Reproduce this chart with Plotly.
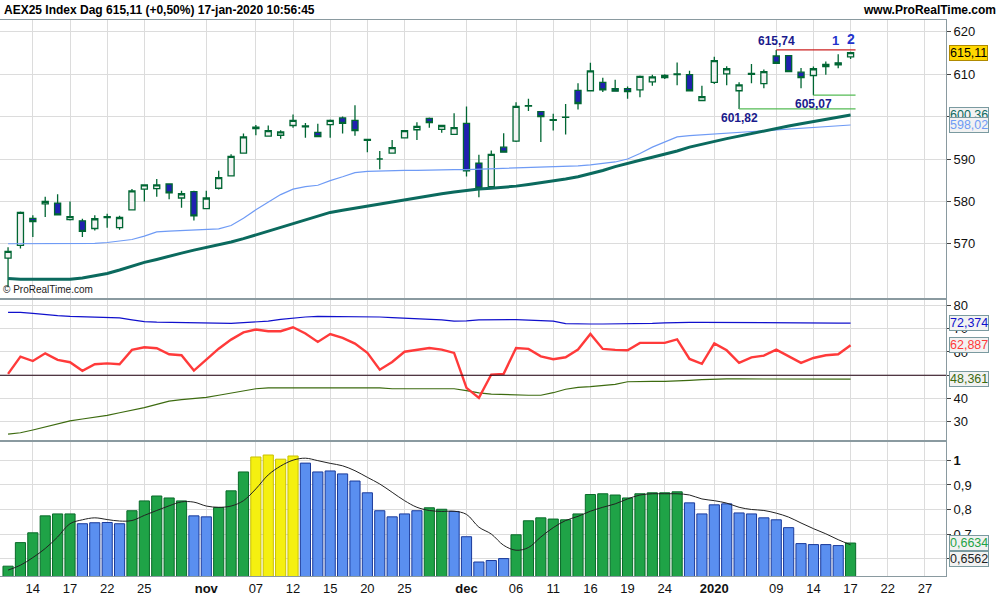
import plotly.graph_objects as go
from plotly.subplots import make_subplots

dates = (["2019-10-%02d" % d for d in [10, 11, 14, 15, 16, 17, 18, 21, 22, 23, 24, 25, 28, 29, 30, 31]]
         + ["2019-11-%02d" % d for d in [1, 4, 5, 6, 7, 8, 11, 12, 13, 14, 15, 18, 19, 20, 21, 22, 25, 26, 27, 28, 29]]
         + ["2019-12-%02d" % d for d in [2, 3, 4, 5, 6, 9, 10, 11, 12, 13, 16, 17, 18, 19, 20, 23, 24, 27, 30, 31]]
         + ["2020-01-%02d" % d for d in [2, 3, 6, 7, 8, 9, 10, 13, 14, 15, 16, 17]])

opens = [566.6, 569.6, 576.0, 579.4, 579.6, 575.7, 575.4, 573.6, 576.2, 573.8,
         578.0, 582.9, 583.0, 584.1, 580.8, 582.3, 578.3, 583.1, 586.0, 591.4,
         597.2, 595.4, 595.6, 597.9, 597.6, 596.3, 598.1, 599.7, 599.1, 594.6,
         590.0, 591.4, 595.0, 596.9, 599.6, 597.0, 595.8, 598.4, 589.0, 583.5,
         592.8, 594.2, 602.5, 601.2, 599.1, 599.8, 606.2, 606.1, 608.1, 606.6,
         606.6, 606.3, 608.2, 609.2, 609.9, 609.9, 603.8, 608.1, 610.1, 606.1,
         610.0, 607.8, 614.3, 614.4, 610.5, 609.7, 612.3, 612.7, 614.1]
highs = [569.2, 577.6, 576.7, 581.1, 581.7, 580.0, 575.9, 576.7, 577.1, 576.6,
         582.9, 584.0, 585.3, 584.2, 582.5, 582.5, 582.5, 587.2, 591.1, 596.0,
         598.0, 597.9, 596.8, 600.5, 598.5, 598.3, 599.3, 600.0, 602.7, 594.8,
         591.9, 594.5, 596.8, 598.7, 599.8, 598.1, 600.8, 602.4, 591.0, 592.0,
         596.1, 603.4, 604.2, 601.3, 600.7, 603.0, 607.9, 612.7, 609.2, 608.7,
         607.1, 609.7, 609.9, 610.0, 612.8, 610.8, 607.3, 614.1, 611.9, 608.1,
         612.4, 611.1, 615.74, 614.5, 611.5, 611.8, 613.0, 614.7, 615.3]
lows = [559.8, 568.9, 571.6, 576.3, 576.8, 575.5, 571.6, 573.1, 573.8, 573.3,
        578.0, 580.0, 581.1, 580.5, 578.5, 575.5, 578.3, 582.8, 585.9, 591.3,
        595.6, 595.3, 594.8, 597.4, 595.0, 595.2, 595.0, 596.0, 595.5, 591.6,
        587.6, 591.3, 594.9, 594.5, 597.4, 596.2, 595.7, 585.9, 581.0, 583.4,
        591.5, 594.0, 601.3, 594.0, 596.7, 595.8, 601.7, 606.0, 605.8, 605.9,
        604.2, 604.6, 607.3, 608.9, 607.4, 606.0, 603.7, 607.7, 607.4, 601.82,
        607.9, 606.7, 612.5, 610.5, 606.7, 605.07, 609.9, 611.4, 613.6]
closes = [568.2, 577.4, 575.2, 580.0, 576.8, 576.4, 572.9, 575.9, 576.4, 576.2,
          582.5, 583.9, 583.9, 582.0, 581.8, 576.6, 580.8, 585.6, 590.6, 595.2,
          597.5, 596.7, 596.4, 599.1, 597.8, 595.3, 599.1, 598.4, 596.7, 594.4,
          590.0, 592.7, 596.7, 597.7, 598.6, 597.9, 597.4, 587.2, 583.1, 591.1,
          591.6, 602.4, 602.6, 600.0, 599.3, 599.9, 603.1, 610.8, 606.3, 606.0,
          605.9, 609.5, 609.4, 609.7, 610.1, 606.1, 604.7, 613.2, 611.3, 607.5,
          610.2, 610.6, 612.6, 610.6, 609.2, 611.3, 611.8, 612.2, 615.11]

ma_slow = [561.8, 561.6, 561.6, 561.6, 561.6, 561.6, 561.9, 562.4, 563.0, 563.8,
           564.7, 565.6, 566.3, 567.1, 567.8, 568.5, 569.1, 569.7, 570.4, 571.2,
           572.1, 572.9, 573.8, 574.8, 575.7, 576.5, 577.4, 577.9, 578.4, 578.9,
           579.4, 579.9, 580.3, 580.8, 581.3, 581.8, 582.2, 582.6, 582.9, 583.1,
           583.3, 583.6, 584.0, 584.4, 584.8, 585.3, 585.8, 586.5, 587.3, 588.2,
           589.0, 589.7, 590.4, 591.1, 591.9, 592.8, 593.5, 594.2, 594.8, 595.4,
           596.0, 596.6, 597.3, 597.8, 598.3, 598.8, 599.3, 599.8, 600.36]
ma_fast = [570.0, 570.0, 570.0, 570.0, 570.0, 570.0, 570.0, 570.1, 570.3, 570.6,
           571.0, 571.8, 572.8, 573.0, 573.1, 573.2, 573.3, 573.5, 574.3, 576.0,
           578.0, 579.9, 581.6, 582.9, 583.5, 583.8, 584.9, 585.8, 586.8, 587.1,
           587.2, 587.2, 587.3, 587.3, 587.4, 587.4, 587.5, 587.5, 587.6, 587.6,
           587.7, 587.8, 587.9, 588.0, 588.1, 588.2, 588.4, 588.6, 588.9, 589.3,
           590.0, 591.3, 592.8, 594.0, 595.2, 595.5, 595.7, 595.9, 596.1, 596.3,
           596.5, 596.7, 596.9, 597.1, 597.2, 597.4, 597.6, 597.8, 598.02]

osc_blue = [77.0, 77.0, 76.6, 76.0, 75.6, 75.3, 75.2, 75.0, 74.9, 74.6,
            73.8, 73.0, 72.8, 72.7, 72.7, 72.4, 72.3, 72.3, 72.3, 72.6,
            72.9, 73.2, 74.0, 74.6, 75.0, 75.3, 75.3, 75.3, 75.3, 75.3,
            75.0, 74.7, 74.5, 74.3, 74.0, 73.8, 73.2, 73.3, 73.8, 73.9,
            73.9, 73.9, 73.7, 73.5, 73.2, 72.2, 72.0, 72.0, 72.0, 72.0,
            72.0, 72.1, 72.3, 72.5, 72.7, 72.7, 72.7, 72.7, 72.7, 72.7,
            72.7, 72.7, 72.7, 72.7, 72.7, 72.5, 72.4, 72.4, 72.374]
osc_red = [50.6, 58.0, 56.1, 59.4, 56.6, 55.6, 51.9, 54.7, 55.1, 54.7,
           60.9, 62.0, 61.6, 59.0, 58.6, 52.0, 56.7, 61.4, 65.3, 68.4,
           69.6, 68.9, 68.9, 70.6, 67.9, 64.3, 67.7, 66.0, 63.6, 59.6,
           52.4, 55.7, 60.1, 61.0, 61.7, 61.0, 59.6, 44.6, 40.3, 50.3,
           50.6, 61.7, 61.3, 58.1, 56.9, 57.7, 61.0, 67.7, 61.3, 60.9,
           60.7, 63.9, 63.9, 63.9, 65.4, 57.0, 54.9, 63.7, 60.7, 55.3,
           57.7, 58.4, 61.0, 58.1, 55.3, 57.4, 58.6, 59.0, 62.887]
osc_green = [24.7, 25.3, 26.5, 27.7, 29.2, 30.4, 31.2, 31.9, 32.8, 33.9,
             34.9, 36.1, 37.5, 38.9, 39.5, 40.0, 40.5, 41.4, 42.3, 43.4,
             44.2, 44.6, 44.6, 44.6, 44.6, 44.6, 44.6, 44.6, 44.6, 44.6,
             44.6, 44.2, 44.2, 44.2, 44.2, 44.2, 44.2, 43.4, 42.4, 41.9,
             41.7, 41.4, 41.4, 41.4, 42.5, 44.0, 44.8, 45.1, 45.5, 46.1,
             47.2, 47.4, 47.4, 47.4, 47.5, 47.8, 48.1, 48.4, 48.4, 48.4,
             48.4, 48.4, 48.4, 48.4, 48.2, 48.2, 48.3, 48.4, 48.361]
osc_level = 50

hist = [0.569, 0.665, 0.705, 0.774, 0.782, 0.782, 0.742, 0.746, 0.747, 0.742,
        0.795, 0.835, 0.855, 0.847, 0.835, 0.774, 0.770, 0.808, 0.876, 0.953,
        1.014, 1.022, 1.005, 1.018, 0.989, 0.953, 0.957, 0.945, 0.916, 0.868,
        0.795, 0.770, 0.782, 0.795, 0.807, 0.801, 0.792, 0.689, 0.586, 0.592,
        0.600, 0.697, 0.754, 0.766, 0.761, 0.758, 0.782, 0.861, 0.864, 0.859,
        0.847, 0.864, 0.868, 0.868, 0.872, 0.827, 0.782, 0.819, 0.823, 0.786,
        0.782, 0.766, 0.758, 0.726, 0.661, 0.657, 0.657, 0.653, 0.6634]
hist_state = (["up"] * 6 + ["down"] * 4 + ["up"] * 5 + ["down"] * 2 + ["up"] * 3
              + ["over"] * 4 + ["down"] * 10 + ["up"] * 2 + ["down"] * 5
              + ["up"] * 14 + ["down"] * 13 + ["up"])
hist_avg = [0.553, 0.573, 0.604, 0.641, 0.688, 0.742, 0.758, 0.766, 0.759, 0.753,
            0.755, 0.776, 0.796, 0.815, 0.831, 0.830, 0.814, 0.809, 0.814, 0.836,
            0.884, 0.941, 0.977, 1.001, 1.009, 0.999, 0.988, 0.978, 0.958, 0.931,
            0.904, 0.870, 0.836, 0.809, 0.796, 0.792, 0.793, 0.780, 0.728, 0.700,
            0.654, 0.634, 0.645, 0.688, 0.726, 0.755, 0.772, 0.793, 0.809, 0.823,
            0.843, 0.859, 0.864, 0.864, 0.864, 0.859, 0.843, 0.836, 0.826, 0.809,
            0.800, 0.796, 0.785, 0.769, 0.745, 0.722, 0.701, 0.677, 0.6562]

tick_dates = ["2019-10-14", "2019-10-17", "2019-10-22", "2019-10-25", "2019-11-01", "2019-11-07",
              "2019-11-12", "2019-11-15", "2019-11-20", "2019-11-25", "2019-12-02", "2019-12-06",
              "2019-12-11", "2019-12-16", "2019-12-19", "2019-12-24", "2020-01-02", "2020-01-09",
              "2020-01-14", "2020-01-17"]
future_ticks = [71, 74]
tick_labels = ["14", "17", "22", "25", "<b>nov</b>", "07", "12", "15", "20", "25", "<b>dec</b>", "06",
               "11", "16", "19", "24", "<b>2020</b>", "09", "14", "17", "22", "27"]

x = list(range(len(dates)))
tickvals = [dates.index(d) for d in tick_dates] + future_ticks
n = len(x)
last = n - 1

fig = make_subplots(rows=3, cols=1, shared_xaxes=True, vertical_spacing=0.004)

fig.add_trace(go.Scatter(x=x, y=ma_fast, mode="lines", line=dict(color="#6f9bf5", width=1.2),
                         hoverinfo="skip"), 1, 1)
fig.add_trace(go.Scatter(x=x, y=ma_slow, mode="lines", line=dict(color="#0b6a5e", width=3),
                         hoverinfo="skip"), 1, 1)
fig.add_trace(go.Candlestick(x=x, open=opens, high=highs, low=lows, close=closes,
                             increasing=dict(line=dict(color="#006633", width=1.3), fillcolor="#f3f3f3"),
                             decreasing=dict(line=dict(color="#006633", width=1.3), fillcolor="#2020b0"),
                             whiskerwidth=0), 1, 1)

i_hi = highs.index(max(highs))
i_lo1 = lows.index(min(lows[55:]), 55)
i_lo2 = lows.index(min(lows[63:]), 63)
for i0, yv, col in [(i_hi, highs[i_hi], "#cc2222"), (i_lo2, lows[i_lo2], "#55bb55"), (i_lo1, lows[i_lo1], "#55bb55")]:
    fig.add_trace(go.Scatter(x=[i0, last + 0.4], y=[yv, yv], mode="lines",
                             line=dict(color=col, width=1.2), hoverinfo="skip"), 1, 1)

def fmt(v, d=2):
    return ("%.*f" % (d, v)).replace(".", ",")

ann = []
ann.append(dict(x=i_hi, y=highs[i_hi], xref="x", yref="y", text="<b>" + fmt(highs[i_hi]) + "</b>",
                showarrow=False, yanchor="bottom", xanchor="center", font=dict(color="#1a1a8c", size=12)))
ann.append(dict(x=i_lo2, y=lows[i_lo2], xref="x", yref="y", text="<b>" + fmt(lows[i_lo2]) + "</b>",
                showarrow=False, yanchor="top", xanchor="center", font=dict(color="#1a1a8c", size=12)))
ann.append(dict(x=i_lo1, y=lows[i_lo1], xref="x", yref="y", text="<b>" + fmt(lows[i_lo1]) + "</b>",
                showarrow=False, yanchor="top", xanchor="center", font=dict(color="#1a1a8c", size=12)))
ann.append(dict(x=last - 1.2, y=highs[i_hi], xref="x", yref="y", text="<b>1</b>", showarrow=False,
                yanchor="bottom", font=dict(color="#2233cc", size=13)))
ann.append(dict(x=last, y=highs[i_hi] + 0.3, xref="x", yref="y", text="<b>2</b>", showarrow=False,
                yanchor="bottom", font=dict(color="#2233cc", size=14)))

fig.add_trace(go.Scatter(x=x, y=osc_blue, mode="lines", line=dict(color="#1010cc", width=1.2)), 2, 1)
fig.add_trace(go.Scatter(x=x, y=osc_green, mode="lines", line=dict(color="#3d6b10", width=1.2)), 2, 1)
fig.add_trace(go.Scatter(x=x, y=osc_red, mode="lines", line=dict(color="#ff3a3a", width=2.4)), 2, 1)

cmap = {"up": "#1fa347", "down": "#5a8ff0", "over": "#f5f010"}
lmap = {"up": "#0a6a2a", "down": "#1a3a9a", "over": "#c8c000"}
fig.add_trace(go.Bar(x=x, y=hist, marker=dict(color=[cmap[s] for s in hist_state],
                                              line=dict(color=[lmap[s] for s in hist_state], width=1)),
                     width=0.82), 3, 1)
fig.add_trace(go.Scatter(x=x, y=hist_avg, mode="lines", line=dict(color="#222222", width=1),
                         line_shape="spline"), 3, 1)

def box(yref, yv, text, fc, bg, bc, ys=0):
    ann.append(dict(x=1.0, xref="paper", y=yv, yref=yref, text=text, showarrow=False, xanchor="left",
                    xshift=3, yshift=ys, font=dict(color=fc, size=12.5, family="Arial"), bgcolor=bg,
                    bordercolor=bc, borderwidth=1, borderpad=0))

box("y", closes[-1], fmt(closes[-1]), "#000000", "#ffd700", "#b08a00")
box("y", ma_slow[-1], fmt(ma_slow[-1]), "#0b6a5e", "#f2f2f2", "#7a9aa0")
box("y", ma_fast[-1], fmt(ma_fast[-1]), "#6f9bf5", "#f2f2f2", "#7a9aa0")
box("y2", osc_blue[-1], fmt(osc_blue[-1], 3), "#1010cc", "#f2f2f2", "#7a9aa0")
box("y2", osc_red[-1], fmt(osc_red[-1], 3), "#ff3a3a", "#f2f2f2", "#7a9aa0")
box("y2", osc_green[-1], fmt(osc_green[-1], 3), "#3d6b10", "#f2f2f2", "#7a9aa0")
box("y3", hist[-1], fmt(hist[-1], 4), "#1fa347", "#f2f2f2", "#7a9aa0")
box("y3", hist_avg[-1], fmt(hist_avg[-1], 4), "#222222", "#f2f2f2", "#7a9aa0", ys=-14)

ann.append(dict(x=0, xref="paper", y=1.0, yref="paper", yanchor="bottom", xanchor="left", showarrow=False,
                text="<b>AEX25 Index Dag 615,11 (+0,50%) 17-jan-2020 10:56:45</b>", xshift=2, yshift=1,
                font=dict(size=12, color="#000", family="Arial")))
ann.append(dict(x=1.0, xref="paper", y=1.0, yref="paper", yanchor="bottom", xanchor="right", showarrow=False,
                text="<b>www.ProRealTime.com</b>", xshift=52, yshift=1, font=dict(size=12, color="#000", family="Arial")))
ann.append(dict(x=0, xref="paper", y=557.4, yref="y", yanchor="bottom", xanchor="left", showarrow=False,
                text="© ProRealTime.com", xshift=1, font=dict(size=10, color="#222", family="Arial")))

fig.add_shape(type="line", xref="paper", x0=0, x1=1, yref="y2", y0=osc_level, y1=osc_level,
              line=dict(color="#220011", width=1.2))

fig.update_layout(width=1000, height=600, margin=dict(l=0, r=54, t=20, b=24),
                  paper_bgcolor="#ffffff", plot_bgcolor="#ffffff", showlegend=False,
                  annotations=ann, separators=", ", bargap=0.15,
                  font=dict(family="Arial, Liberation Sans", size=13, color="#111"))
axis_common = dict(showline=True, linecolor="#8a9aa0", linewidth=1, mirror=True,
                   gridcolor="#dcdcdc", zeroline=False, automargin=False)
H = 556.0
doms = [((576 - 298) / H, 1.0), ((576 - 440) / H, (576 - 300) / H), (0.0, (576 - 442) / H)]
for r in (1, 2, 3):
    fig.update_xaxes(range=[-0.65, 75.7], tickvals=tickvals, ticktext=tick_labels, showgrid=True,
                     rangeslider=dict(visible=False), ticks="", showticklabels=(r == 3), row=r, col=1,
                     **axis_common)
fig.update_yaxes(domain=doms[0], side="right", range=[557.2, 622.8], tickvals=[570, 580, 590, 600, 610, 620],
                 ticks="outside", ticklen=4, row=1, col=1, **axis_common)
fig.update_yaxes(domain=doms[1], side="right", range=[22.2, 82.3], tickvals=[30, 40, 50, 60, 70, 80],
                 ticks="outside", ticklen=4, row=2, col=1, **axis_common)
fig.update_yaxes(domain=doms[2], side="right", range=[0.529, 1.075], tickvals=[0.6, 0.7, 0.8, 0.9, 1.0],
                 ticktext=["0,6", "0,7", "0,8", "0,9", "<b>1</b>"],
                 ticks="outside", ticklen=4, row=3, col=1, **axis_common)

fig.write_html("out.html", config={"displayModeBar": False},
               post_script="document.body.style.margin='0';document.body.style.overflow='hidden';")
